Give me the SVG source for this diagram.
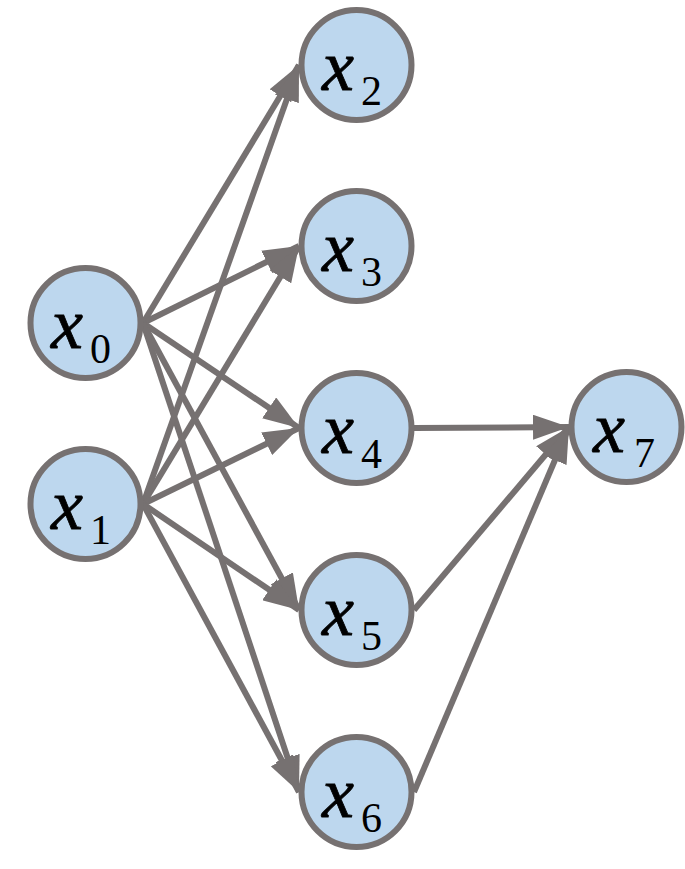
<svg xmlns="http://www.w3.org/2000/svg" width="685" height="869" viewBox="0 0 685 869">
<style>
.n{fill:#BDD7EE;stroke:#767171;stroke-width:6}
.e{stroke:#767171;stroke-width:6;fill:none;marker-end:url(#ah)}
.v{font-family:"Liberation Serif","DejaVu Serif",serif;font-style:italic;font-size:72px;fill:#000;stroke:#000;stroke-width:0.8}
.s{font-family:"Liberation Serif","DejaVu Serif",serif;font-size:42px;fill:#000}
</style>
<defs>
<marker id="ah" markerUnits="strokeWidth" markerWidth="6" markerHeight="4.2" refX="6" refY="2.1" orient="auto">
<path d="M0,0 L6,2.1 L0,4.2 z" fill="#767171"/>
</marker>
</defs>
<rect width="685" height="869" fill="#fff"/>
<g id="connectors">
<line class="e" x1="143" y1="323" x2="299" y2="65"/>
<line class="e" x1="143" y1="323" x2="299" y2="246"/>
<line class="e" x1="143" y1="323" x2="299" y2="428"/>
<line class="e" x1="143" y1="323" x2="299" y2="610"/>
<line class="e" x1="143" y1="323" x2="299" y2="792"/>
<line class="e" x1="143" y1="504" x2="299" y2="65"/>
<line class="e" x1="143" y1="504" x2="299" y2="246"/>
<line class="e" x1="143" y1="504" x2="299" y2="428"/>
<line class="e" x1="143" y1="504" x2="299" y2="610"/>
<line class="e" x1="143" y1="504" x2="299" y2="792"/>
<line class="e" x1="414" y1="428" x2="569" y2="427"/>
<line class="e" x1="414" y1="610" x2="569" y2="427"/>
<line class="e" x1="414" y1="792" x2="569" y2="427"/>
</g>
<g id="x0"><circle class="n" cx="85.5" cy="323" r="55"/><text class="v" x="51" y="348">x</text><text class="s" x="90" y="363">0</text></g>
<g id="x1"><circle class="n" cx="85.5" cy="504" r="55"/><text class="v" x="51" y="529">x</text><text class="s" x="90" y="544">1</text></g>
<g id="x2"><circle class="n" cx="356.5" cy="65" r="55"/><text class="v" x="322" y="90">x</text><text class="s" x="361" y="105">2</text></g>
<g id="x3"><circle class="n" cx="356.5" cy="246" r="55"/><text class="v" x="322" y="271">x</text><text class="s" x="361" y="286">3</text></g>
<g id="x4"><circle class="n" cx="356.5" cy="428" r="55"/><text class="v" x="322" y="453">x</text><text class="s" x="361" y="468">4</text></g>
<g id="x5"><circle class="n" cx="356.5" cy="610" r="55"/><text class="v" x="322" y="635">x</text><text class="s" x="361" y="650">5</text></g>
<g id="x6"><circle class="n" cx="356.5" cy="792" r="55"/><text class="v" x="322" y="817">x</text><text class="s" x="361" y="832">6</text></g>
<g id="x7"><circle class="n" cx="626.5" cy="427" r="55"/><text class="v" x="593" y="452">x</text><text class="s" x="634" y="467">7</text></g>
</svg>
